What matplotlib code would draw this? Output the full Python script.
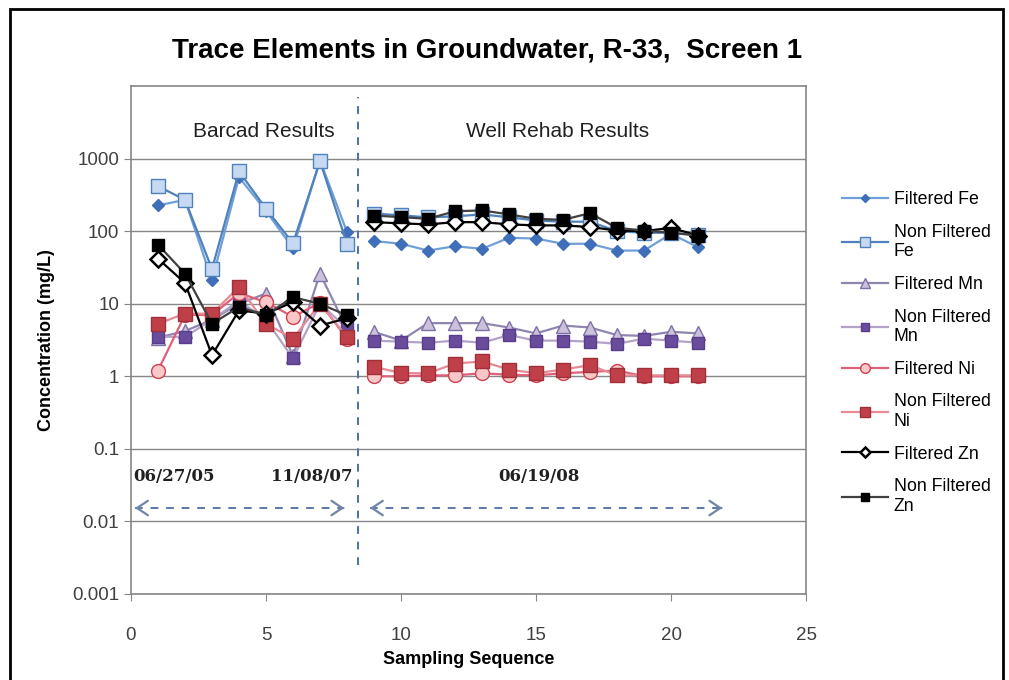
import matplotlib.pyplot as plt
import numpy as np
from matplotlib.patches import Rectangle

plt.rcParams['font.family'] = ['Liberation Sans', 'DejaVu Sans']

seq = np.arange(1, 22)
n_barcad = 8  # first 8 samples are Barcad, rest are well rehab

# concentrations (mg/L)
filt_fe = [226, 270, 21, 553, 190, 58, 950, 97,
           73, 67, 54, 62, 57, 81, 79, 67, 67, 54, 54, 92, 60]
nonf_fe = [416, 270, 30, 668, 203, 68, 920, 67,
           175, 165, 155, 160, 170, 155, 140, 135, 135, 100, 95, 95, 88]
filt_mn = [3.4, 4.2, 6.0, 10.0, 13.8, 1.9, 26, 4.5,
           4.1, 3.1, 5.4, 5.4, 5.4, 4.7, 3.9, 5.0, 4.7, 3.7, 3.6, 4.1, 3.9]
nonf_mn = [3.5, 3.5, 6.0, 11.0, 6.0, 1.76, 10.0, 4.6,
           3.1, 3.0, 2.9, 3.1, 2.9, 3.7, 3.1, 3.1, 3.0, 2.8, 3.3, 3.1, 2.9]
filt_ni = [1.2, 7.0, 7.0, 14.0, 10.5, 6.6, 10.3, 3.3,
           1.0, 1.0, 1.03, 1.03, 1.1, 1.05, 1.03, 1.1, 1.15, 1.2, 1.0, 1.0, 1.0]
nonf_ni = [5.3, 7.3, 7.3, 17.0, 5.3, 3.3, 10.0, 3.5,
           1.35, 1.11, 1.1, 1.5, 1.6, 1.24, 1.1, 1.24, 1.42, 1.03, 1.03, 1.03, 1.03]
filt_zn = [41.7, 19.3, 1.95, 8.1, 7.3, 10.5, 5.0, 6.3,
           133, 128, 124, 133, 133, 124, 120, 120, 114, 102, 100, 111, 87]
nonf_zn = [65, 26, 5.3, 9.0, 7.0, 12.3, 10.0, 6.9,
           164, 156, 148, 188, 193, 170, 148, 143, 177, 111, 102, 95, 87]

series = [
    ('Filtered Fe', filt_fe, dict(color='#6f9fd8', marker='D', ms=6, mfc='#3f6fb8', mec='#3f6fb8')),
    ('Non Filtered\nFe', nonf_fe, dict(color='#4f81bd', marker='s', ms=10, mfc='#c6d9f1', mec='#4f81bd')),
    ('Filtered Mn', filt_mn, dict(color='#8f86b0', marker='^', ms=10, mfc='#ccc1da', mec='#7f70a8')),
    ('Non Filtered\nMn', nonf_mn, dict(color='#b3a2c7', marker='s', ms=9, mfc='#6a4c9c', mec='#5a3c8c')),
    ('Filtered Ni', filt_ni, dict(color='#e0607a', marker='o', ms=10, mfc='#f8c8c8', mec='#d04050')),
    ('Non Filtered\nNi', nonf_ni, dict(color='#e88a96', marker='s', ms=10, mfc='#c0404a', mec='#a03038')),
    ('Filtered Zn', filt_zn, dict(color='black', marker='D', ms=8, mfc='white', mec='black', mew=1.8)),
    ('Non Filtered\nZn', nonf_zn, dict(color='#404040', marker='s', ms=8, mfc='black', mec='black')),
]

fig = plt.figure(figsize=(10.09, 6.80), dpi=100)
ax = fig.add_axes([131 / 1009, 1 - 594 / 680, 675 / 1009, 508 / 680])

for label, vals, style in series:
    vals = np.asarray(vals, dtype=float)
    ax.plot(seq[:n_barcad], vals[:n_barcad], lw=1.6, label=label, **style)
    ax.plot(seq[n_barcad:], vals[n_barcad:], lw=1.6, **style)

ax.set_yscale('log')
ax.set_ylim(0.001, 10000)
ax.set_xlim(0, 25)
ax.set_xticks([0, 5, 10, 15, 20, 25])
ax.set_yticks([0.001, 0.01, 0.1, 1, 10, 100, 1000])
ax.set_yticklabels(['0.001', '0.01', '0.1', '1', '10', '100', '1000'])
ax.minorticks_off()
ax.yaxis.grid(True, color='#868686', lw=1)
ax.set_axisbelow(True)
for s in ax.spines.values():
    s.set_color('#868686')
    s.set_linewidth(1.2)
ax.tick_params(colors='#868686', labelcolor='#404040', labelsize=13.5, length=5)
ax.tick_params(axis='x', pad=19)

ax.set_xlabel('Sampling Sequence', fontsize=13, fontweight='bold', labelpad=5)
ax.set_ylabel('Concentration (mg/L)', fontsize=13, fontweight='bold', labelpad=12)
fig.text(487 / 1009, 1 - 50 / 680, 'Trace Elements in Groundwater, R-33,  Screen 1',
         ha='center', va='center', fontsize=20, fontweight='bold')

# period divider and annotations
ax.plot([8.4, 8.4], [0.0025, 7000], ls=(0, (4, 4)), color='#4f6fa8', lw=1.4)
ax.text(4.93, 2350, 'Barcad Results', ha='center', va='center', fontsize=15, color='#202020')
ax.text(15.8, 2350, 'Well Rehab Results', ha='center', va='center', fontsize=15, color='#202020')
for x, txt in [(0.08, '06/27/05'), (5.2, '11/08/07'), (13.6, '06/19/08')]:
    ax.text(x, 0.042, txt, ha='left', va='center', fontsize=12,
            fontweight='bold', family='DejaVu Serif', color='#202020')
for x0, x1 in [(0.15, 7.9), (8.85, 21.9)]:
    ax.plot([x0, x1], [0.0153, 0.0153], ls=(0, (4, 4)), color='#5a7aa8', lw=1.4)
    for tip, tail in [(x0, x0 + 0.05), (x1, x1 - 0.05)]:
        ax.annotate('', xy=(tip, 0.0153), xytext=(tail, 0.0153),
                    arrowprops=dict(arrowstyle='->,head_length=0.6,head_width=0.4',
                                    color='#6f86a8', lw=1.6, mutation_scale=13,
                                    shrinkA=0, shrinkB=0))

ax.legend(loc='upper left', bbox_to_anchor=(826 / 1009, 1 - 175 / 680),
          bbox_transform=fig.transFigure, frameon=False, fontsize=12.8,
          handlelength=2.6, handletextpad=0.3, labelspacing=0.88, markerscale=0.7)

fig.add_artist(Rectangle((10 / 1009, -0.1), 993 / 1009, 1.1 - 9 / 680,
                         transform=fig.transFigure, fill=False, lw=2, ec='black'))

fig.savefig('out.png', dpi=100)
